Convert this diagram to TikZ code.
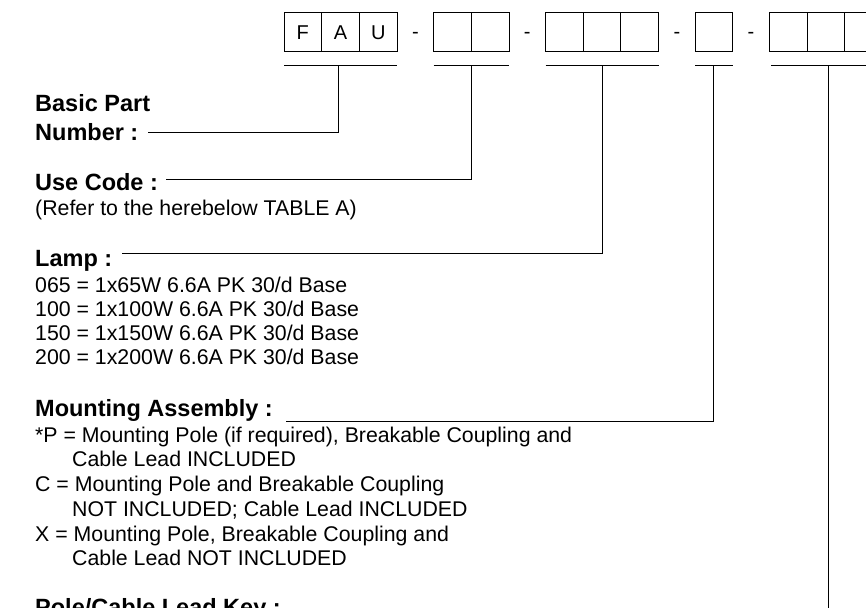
\documentclass[tikz,border=0pt]{standalone}
\usepackage{fontspec}
\setmainfont{Liberation Sans}
\usetikzlibrary{positioning,calc}

\tikzset{
  cell/.style={draw, line width=1pt, minimum width=37.7pt, minimum height=39pt,
    inner sep=0pt, outer sep=0pt, font=\fontsize{20}{24}\selectfont},
  hyph/.style={anchor=base, yshift=-6pt, inner sep=0pt, font=\fontsize{20}{24}\selectfont},
  head/.style={anchor=base west, inner sep=0pt, font=\bfseries\fontsize{23.5}{28}\selectfont},
  item/.style={anchor=base west, inner sep=0pt, font=\fontsize{21.3}{24}\selectfont},
  lead/.style={line width=1pt},
}

\begin{document}
\begin{tikzpicture}[x=1pt,y=-1pt]
  \useasboundingbox (0,0) rectangle (866,607);
  \clip (0,0) rectangle (866,607);

  % code boxes
  \node[cell] (c11) at (302.85,32.5) {F};
  \node[cell, right=0pt of c11] (c12) {A};
  \node[cell, right=0pt of c12] (c13) {U};
  \node[cell, right=36.5pt of c13] (c21) {};
  \node[cell, right=0pt of c21] (c22) {};
  \node[cell, right=36.5pt of c22] (c31) {};
  \node[cell, right=0pt of c31] (c32) {};
  \node[cell, right=0pt of c32] (c33) {};
  \node[cell, right=36.5pt of c33] (c41) {};
  \node[cell, right=36.5pt of c41] (c51) {};
  \node[cell, right=0pt of c51] (c52) {};
  \node[cell, right=0pt of c52] (c53) {};

  \node[hyph] at ($(c13.east)!0.5!(c21.west)$) {-};
  \node[hyph] at ($(c22.east)!0.5!(c31.west)$) {-};
  \node[hyph] at ($(c33.east)!0.5!(c41.west)$) {-};
  \node[hyph] at ($(c41.east)!0.5!(c51.west)$) {-};

  % underlines
  \draw[lead] ([yshift=-14pt]c11.south west) -- ([yshift=-14pt]c13.south east);
  \draw[lead] ([yshift=-14pt]c21.south west) -- ([yshift=-14pt]c22.south east);
  \draw[lead] ([yshift=-14pt]c31.south west) -- ([yshift=-14pt]c33.south east);
  \draw[lead] ([yshift=-14pt]c41.south west) -- ([yshift=-14pt]c41.south east);
  \draw[lead] ([xshift=2pt,yshift=-14pt]c51.south west) -- ([yshift=-14pt]c53.south east);

  % legend
  \node[head] (basic) at (35,111) {Basic Part};
  \node[head] (number) at (35,140) {Number :};

  \node[head] (usecode) at (35,190) {Use Code :};
  \node[item] (refer) at (35,215) {(Refer to the herebelow TABLE A)};

  \node[head] (lamp) at (35,266) {Lamp :};
  \node[item] (l065) at (35,292) {065 = 1x65W 6.6A PK 30/d Base};
  \node[item] (l100) at (35,316) {100 = 1x100W 6.6A PK 30/d Base};
  \node[item] (l150) at (35,340) {150 = 1x150W 6.6A PK 30/d Base};
  \node[item] (l200) at (35,364) {200 = 1x200W 6.6A PK 30/d Base};

  \node[head] (mount) at (35,416) {Mounting Assembly :};
  \node[item] (mp) at (35,442) {*P = Mounting Pole (if required), Breakable Coupling and};
  \node[item] (mp2) at (72,466) {Cable Lead INCLUDED};
  \node[item] (mc) at (35,491) {C = Mounting Pole and Breakable Coupling};
  \node[item] (mc2) at (72,516) {NOT INCLUDED; Cable Lead INCLUDED};
  \node[item] (mx) at (35,541) {X = Mounting Pole, Breakable Coupling and};
  \node[item] (mx2) at (72,565) {Cable Lead NOT INCLUDED};

  \node[head] (polekey) at (35,615) {Pole/Cable Lead Key :};

  % leaders
  \draw[lead] ([xshift=-2.5pt,yshift=-14pt]c12.south) |- ([xshift=9pt,yshift=8pt]number.base east);
  \draw[lead] ([yshift=-14pt]$(c21.south)!0.5!(c22.south)$) |- ([xshift=8pt,yshift=11pt]usecode.base east);
  \draw[lead] ([yshift=-14pt]c32.south) |- ([xshift=10pt,yshift=13pt]lamp.base east);
  \draw[lead] ([yshift=-14pt]c41.south) |- ([xshift=13pt,yshift=-5pt]mount.base east);
  \draw[lead] ([xshift=3pt,yshift=-14pt]c52.south) |- ([xshift=10pt,yshift=-6pt]polekey.base east);
\end{tikzpicture}
\end{document}
